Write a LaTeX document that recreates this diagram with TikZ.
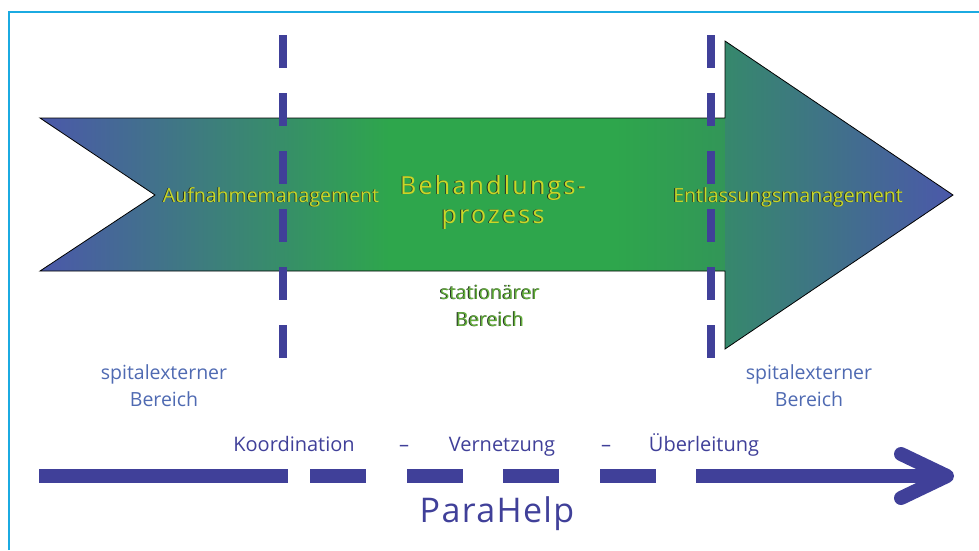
\documentclass[tikz,border=0pt]{standalone}
\usepackage{fontspec}
\setmainfont{Open Sans}
\usepackage{tikz}
\usetikzlibrary{positioning}
\definecolor{pblue}{RGB}{75,88,170}
\definecolor{pgreen}{RGB}{46,166,76}
\definecolor{pdeep}{RGB}{50,150,88}
\definecolor{pteal}{RGB}{54,136,108}
\definecolor{ptext}{RGB}{200,215,40}
\definecolor{pshadow}{RGB}{35,45,35}
\definecolor{pstat}{RGB}{100,175,60}
\definecolor{pext}{RGB}{79,106,178}
\definecolor{pnavy}{RGB}{64,64,153}
\definecolor{pframe}{RGB}{27,170,225}
\pgfdeclarehorizontalshading{shaftshade}{100bp}{color(0bp)=(pblue); color(25bp)=(pblue); color(50.5bp)=(pgreen); color(67bp)=(pgreen); color(75bp)=(pdeep); color(100bp)=(pdeep)}
\pgfdeclarehorizontalshading{headshade}{100bp}{color(0bp)=(pteal); color(25bp)=(pteal); color(75bp)=(pblue); color(100bp)=(pblue)}
\newcommand{\shadowed}[2]{\makebox[0pt][l]{\hspace*{-0.9pt}\raisebox{-0.9pt}{\color{pshadow}#2}}{\color{#1}#2}}

\begin{document}
\begin{tikzpicture}[x=1pt,y=-1pt]
\tikzstyle{frame}=[draw=pframe, line width=1.5pt]
\tikzstyle{border}=[draw=black, line width=0.8pt, line join=miter]
\tikzstyle{divider}=[draw=pnavy, line width=8pt, dash pattern=on 33pt off 25pt]
\tikzstyle{flow}=[draw=pnavy, line width=14pt, dash pattern=on 249pt off 22pt on 56pt off 41pt on 56pt off 40pt on 56pt off 41pt on 56pt off 40pt on 400pt]
\tikzstyle{chevron}=[draw=pnavy, line width=14pt, line cap=round, line join=round]
\tikzstyle{label}=[inner sep=0pt, align=center, font=\fontsize{19.5}{27}\selectfont]
\tikzstyle{title}=[inner sep=0pt, align=center, font=\addfontfeatures{LetterSpace=9}\fontsize{25}{29}\selectfont]
\tikzstyle{flowtext}=[inner sep=0pt, text=pnavy, font=\fontsize{20}{24}\selectfont]
\useasboundingbox (0,0) rectangle (979,550);
\draw[frame] (9,550) -- (9,12) -- (979,12);

% big arrow
\shade[shading=shaftshade] (40,118) -- (725,118) -- (725,271) -- (40,271) -- (155,195) -- cycle;
\shade[shading=headshade] (725,41) -- (953,195) -- (725,349) -- cycle;
\draw[border] (40,118) -- (725,118) -- (725,41) -- (953,195) -- (725,349) -- (725,271) -- (40,271) -- (155,195) -- cycle;

\coordinate (d0) at (283,35);
\coordinate (d1) at (283,358);
\coordinate (d2) at (711,35);
\coordinate (d3) at (711,358);
\draw[divider] (d0) -- (d1);
\draw[divider] (d2) -- (d3);

\node[label, anchor=base] (0) at (271,202) {\shadowed{ptext}{Aufnahmemanagement}};
\node[title, anchor=base] (1) at (493,223) {\shadowed{ptext}{Behandlungs-}\\\shadowed{ptext}{prozess}};
\node[label, anchor=base] (2) at (788,202) {\shadowed{ptext}{Entlassungsmanagement}};
\node[label, anchor=base] (3) at (490,326) {\shadowed{pstat}{stationärer}\\\shadowed{pstat}{Bereich}};
\node[label, anchor=base, text=pext] (4) at (164,406) {spitalexterner\\Bereich};
\node[label, anchor=base, text=pext] (5) at (809,406) {spitalexterner\\Bereich};

% ParaHelp line
\node[flowtext, anchor=base] (6) at (294,451) {Koordination};
\node[flowtext, anchor=base] (8) at (502,451) {Vernetzung};
\node[flowtext, anchor=base] (10) at (704,451) {Überleitung};
\node[flowtext, anchor=base] (7) at (404,451) {–};
\node[flowtext, anchor=base] (9) at (606,451) {–};
\coordinate (s) at (39,476);
\coordinate (t) at (947,476);
\draw[flow] (s) -- (t);
\draw[chevron] ([shift={(-46,-22)}]t) -- (t) -- ([shift={(-46,22)}]t);
\node[flowtext, anchor=base, font=\addfontfeatures{LetterSpace=4}\fontsize{34}{40}\selectfont] (11) at (497,522) {ParaHelp};
\end{tikzpicture}
\end{document}
